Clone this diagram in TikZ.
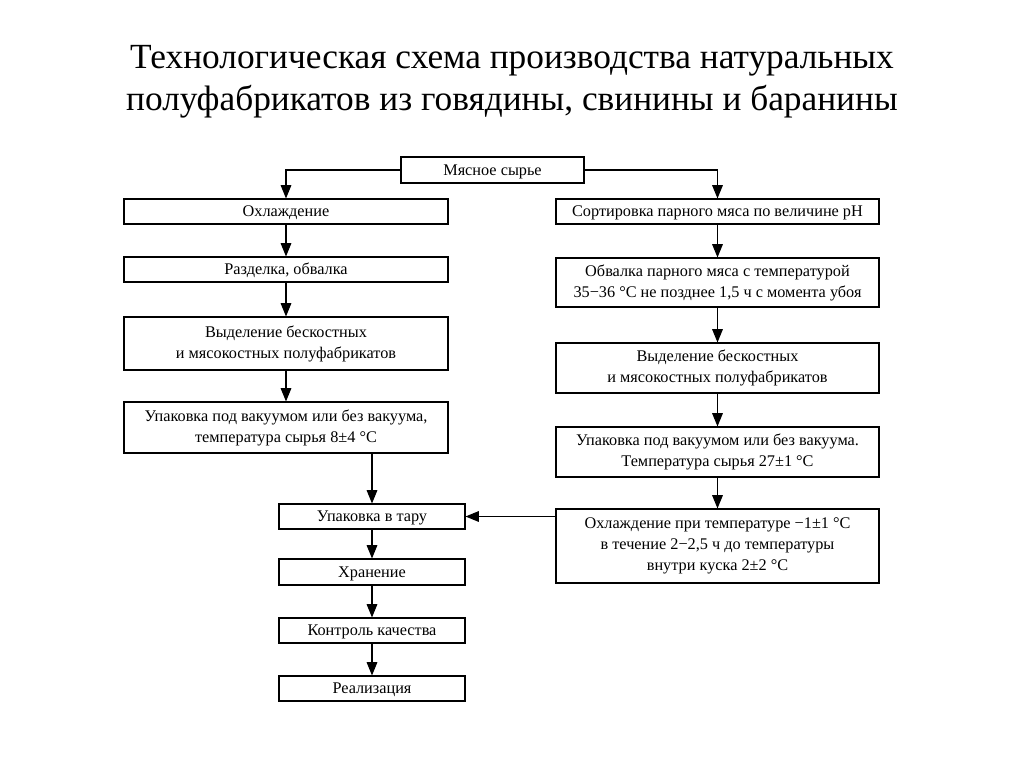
\documentclass[tikz,border=0pt]{standalone}
\usepackage{fontspec}
\usepackage{tikz}
\usetikzlibrary{arrows.meta}
\setmainfont{Liberation Serif}
\tikzset{
  stage/.style={draw, rectangle, line width=0.8pt, inner sep=0pt, align=center,
    font=\fontsize{12.2}{15.75}\selectfont},
  oneline/.style={stage, text height=10pt, text depth=1.9pt},
  flow/.style={line width=0.8pt, -{Triangle[length=10pt,width=8pt]}}
}

\begin{document}
\begin{tikzpicture}[x=0.75pt,y=-0.75pt]
  \useasboundingbox (0,0) rectangle (1024,767);
  % Title
  \node[align=center, font=\fontsize{26.5}{31.5}\selectfont] (title) at (512,82)
    {Технологическая схема производства натуральных\\полуфабрикатов из говядины, свинины и баранины};

  % Raw material
  \node[oneline, minimum width=137.25pt, minimum height=19.5pt] (raw) at (492.5,170) {Мясное сырье};

  % Chilled meat
  \node[oneline, minimum width=243pt, minimum height=18.75pt] (cool) at (286,211.5) {Охлаждение};
  \node[oneline, minimum width=243pt, minimum height=18.75pt] (cut) at (286,269.5) {Разделка, обвалка};
  \node[stage, minimum width=243pt, minimum height=39.75pt] (sepL) at (286,343.5) {Выделение бескостных\\и мясокостных полуфабрикатов};
  \node[stage, minimum width=243pt, minimum height=38.25pt] (packL) at (286,427.5) {Упаковка под вакуумом или без вакуума,\\температура сырья 8±4 °C};

  % Hot meat
  \node[oneline, minimum width=242.25pt, minimum height=18.75pt] (sort) at (717.5,211.5) {Сортировка парного мяса по величине pH};
  \node[stage, minimum width=242.25pt, minimum height=36.75pt] (bone) at (717.5,282.5) {Обвалка парного мяса с температурой\\35−36 °C не позднее 1,5 ч с момента убоя};
  \node[stage, minimum width=242.25pt, minimum height=37.5pt] (sepR) at (717.5,368) {Выделение бескостных\\и мясокостных полуфабрикатов};
  \node[stage, minimum width=242.25pt, minimum height=37.5pt] (packR) at (717.5,452) {Упаковка под вакуумом или без вакуума.\\Температура сырья 27±1 °C};
  \node[stage, minimum width=242.25pt, minimum height=55.5pt] (chill) at (717.5,546) {Охлаждение при температуре −1±1 °C\\в течение 2−2,5 ч до температуры\\внутри куска 2±2 °C};

  % Common end
  \node[oneline, minimum width=139.5pt, minimum height=18.75pt] (tara) at (372,516.5) {Упаковка в тару};
  \node[oneline, minimum width=139.5pt, minimum height=19.5pt] (store) at (372,572) {Хранение};
  \node[oneline, minimum width=139.5pt, minimum height=18.75pt] (check) at (372,630.5) {Контроль качества};
  \node[oneline, minimum width=139.5pt, minimum height=18.75pt] (sale) at (372,688.5) {Реализация};

  \draw[flow] (raw.west) -| (cool.north);
  \draw[flow] (raw.east) -| (sort.north);

  \draw[flow] (cool) -- (cut);
  \draw[flow] (cut) -- (sepL);
  \draw[flow] (sepL) -- (packL);
  \draw[flow] (tara.north |- packL.south) -- (tara.north);

  \draw[flow] (sort) -- (bone);
  \draw[flow] (bone) -- (sepR);
  \draw[flow] (sepR) -- (packR);
  \draw[flow] (packR) -- (chill);
  \draw[flow] (chill.west |- tara.east) -- (tara.east);

  \draw[flow] (tara) -- (store);
  \draw[flow] (store) -- (check);
  \draw[flow] (check) -- (sale);
\end{tikzpicture}
\end{document}
